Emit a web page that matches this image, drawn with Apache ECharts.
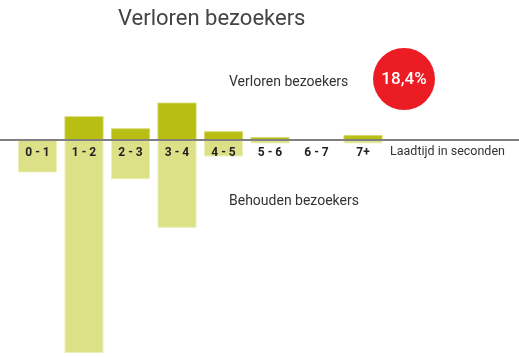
<!DOCTYPE html>
<html><head><meta charset="utf-8">
<script src="https://cdn.jsdelivr.net/npm/echarts@6/dist/echarts.min.js"></script>
<style>html,body{margin:0;padding:0;background:#fff}#c{width:519px;height:357px}</style>
</head><body><div id="c"></div>
<script>
const categories = ['0 - 1', '1 - 2', '2 - 3', '3 - 4', '4 - 5', '5 - 6', '6 - 7', '7+'];
const lost = [0, 4.9, 2.4, 7.7, 1.8, 0.6, 0, 1.0];
const retained = [6.7, 43.9, 8.1, 18.1, 3.4, 0.7, 0, 0.7];
const lostShare = '18,4%';
const axisName = 'Laadtijd in seconden';

const unit = 4.85, zeroY = 140, yMax = 8, yMin = -45;
const chart = echarts.init(document.getElementById('c'));
const FF = 'Roboto';
chart.setOption({
  animation: false,
  title: { text: 'Verloren bezoekers', left: 113, top: 3,
    textStyle: { fontFamily: FF, fontSize: 22, fontWeight: 'normal', color: '#444' } },
  grid: { left: 14.25, width: 372, top: zeroY - yMax * unit, height: (yMax - yMin) * unit,
    containLabel: false, outerBoundsMode: 'none' },
  xAxis: { type: 'category', data: categories, z: 10, position: 'bottom', offset: yMin * unit,
    axisLine: { show: false, onZero: false },
    axisTick: { show: false },
    axisLabel: { fontFamily: FF, fontSize: 12, fontWeight: 'bold', color: '#222', margin: 7, interval: 0 } },
  yAxis: { type: 'value', min: yMin, max: yMax, axisLine: { show: false }, axisLabel: { show: false },
    axisTick: { show: false }, splitLine: { show: false } },
  series: [
    { type: 'bar', stack: 's', data: lost, barWidth: 39,
      itemStyle: { color: '#b8bf12', borderColor: '#d4d86a', borderWidth: 0.8 } },
    { type: 'bar', stack: 's', data: retained.map(v => -v), barWidth: 39,
      itemStyle: { color: '#dce087', borderColor: '#ecefb8', borderWidth: 1 } }
  ]
});
const y0 = chart.convertToPixel({ yAxisIndex: 0 }, 0);
chart.setOption({
  graphic: [
    { type: 'line', shape: { x1: 0, y1: y0, x2: 519, y2: y0 }, z: 20,
      style: { stroke: '#808080', lineWidth: 2 } },
    { type: 'text', left: 390, top: y0 + 5, z: 20,
      style: { text: axisName, fontFamily: FF, fontSize: 12.5, fill: '#333' } },
    { type: 'text', left: 229, top: 75, z: 20,
      style: { text: 'Verloren bezoekers', fontFamily: FF, fontSize: 14, fill: '#333' } },
    { type: 'text', left: 229, top: 194, z: 20,
      style: { text: 'Behouden bezoekers', fontFamily: FF, fontSize: 14, fill: '#333' } },
    { type: 'circle', shape: { cx: 404, cy: 79, r: 31 }, z: 20, style: { fill: '#ec1c24' } },
    { type: 'text', x: 404, y: 80, z: 21,
      style: { text: lostShare, fontFamily: FF, fontSize: 17, fontWeight: 500, fill: '#fff',
        align: 'center', verticalAlign: 'middle' } }
  ]
});
</script></body></html>
